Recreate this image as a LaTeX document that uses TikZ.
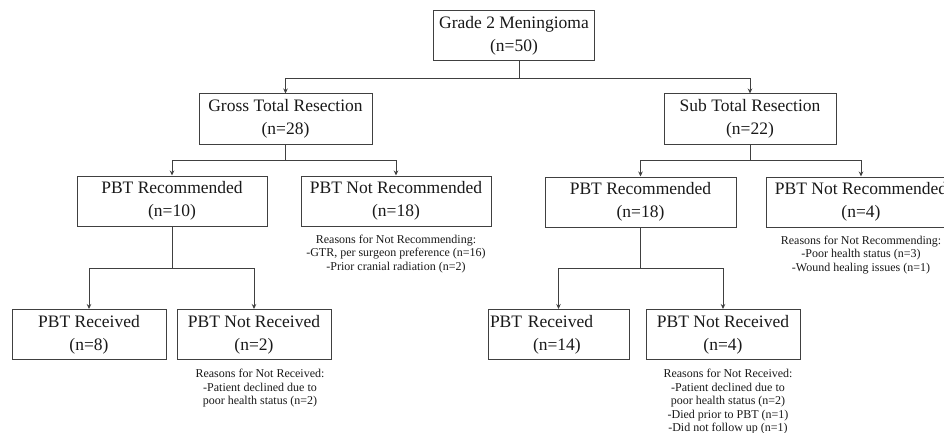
\documentclass[tikz,border=0pt]{standalone}
\usepackage{fontspec}
\setmainfont{Liberation Serif}
\usetikzlibrary{positioning,arrows.meta}

\begin{document}
\begin{tikzpicture}[x=1pt, y=-1pt,
    box/.style={draw=black!75, line width=1pt, align=center, minimum height=50pt,
      inner sep=2pt, text=black!90, font=\fontsize{17.5}{23}\selectfont},
    note/.style={align=center, inner sep=0pt, text=black!90, font=\fontsize{12}{13.5}\selectfont},
    arr/.style={draw=black!75, line width=1pt, -{Stealth[length=5pt,width=4.5pt]}}]
  \useasboundingbox (0,0) rectangle (944,433);

  % top level
  \node[box, minimum width=161pt] (top) at (514,36) {Grade 2 Meningioma\\(n=50)};

  % resection
  \node[box, minimum width=173pt] (gtr) at (285.5,119) {Gross Total Resection\\(n=28)};
  \node[box, minimum width=172pt] (str) at (750,119) {Sub Total Resection\\(n=22)};

  % recommendation
  \node[box, minimum width=190pt] (gtrRec) at (172,201) {PBT Recommended\\(n=10)};
  \node[box, minimum width=190pt] (gtrNot) at (396,201) {PBT Not Recommended\\(n=18)};
  \node[box, minimum width=191pt] (strRec) at (640.5,202) {PBT Recommended\\(n=18)};
  \node[box, minimum width=190pt] (strNot) at (861,202) {PBT Not Recommended\\(n=4)};

  \node[note, below=8pt of gtrNot] (gtrWhy) {Reasons for Not Recommending:\\-GTR, per surgeon preference (n=16)\\-Prior cranial radiation (n=2)};
  \node[note, below=8pt of strNot] (strWhy) {Reasons for Not Recommending:\\-Poor health status (n=3)\\-Wound healing issues (n=1)};

  % received
  \node[box, minimum width=154pt] (gtrRecv) at (89,334.5) {PBT Received\\(n=8)};
  \node[box, minimum width=154pt] (gtrNoRecv) at (254,334.5) {PBT Not Received\\(n=2)};
  \node[box, text width=137pt, align=left] (strRecv) at (558.5,334.5) {PBT Received\\\hspace*{43pt}(n=14)};
  \node[box, minimum width=154pt] (strNoRecv) at (723,334.5) {PBT Not Received\\(n=4)};

  \node[note, below=9pt of gtrNoRecv, xshift=6pt] (gtrNoWhy) {Reasons for Not Received:\\-Patient declined due to\\poor health status (n=2)};
  \node[note, below=9pt of strNoRecv, xshift=5pt] (strNoWhy) {Reasons for Not Received:\\-Patient declined due to\\poor health status (n=2)\\-Died prior to PBT (n=1)\\-Did not follow up (n=1)};

  % connectors
  \draw[arr] ([xshift=5pt]top.south) -- ++(0,17) -| (gtr.north);
  \draw[arr] ([xshift=5pt]top.south) -- ++(0,17) -| (str.north);
  \draw[arr] (gtr.south) -- ++(0,16) -| (gtrRec.north);
  \draw[arr] (gtr.south) -- ++(0,16) -| (gtrNot.north);
  \draw[arr] (str.south) -- ++(0,16) -| (strRec.north);
  \draw[arr] (str.south) -- ++(0,16) -| (strNot.north);
  \draw[arr] (gtrRec.south) -- ++(0,42) -| (gtrRecv.north);
  \draw[arr] (gtrRec.south) -- ++(0,42) -| (gtrNoRecv.north);
  \draw[arr] (strRec.south) -- ++(0,41) -| (strRecv.north);
  \draw[arr] (strRec.south) -- ++(0,41) -| (strNoRecv.north);
\end{tikzpicture}
\end{document}
